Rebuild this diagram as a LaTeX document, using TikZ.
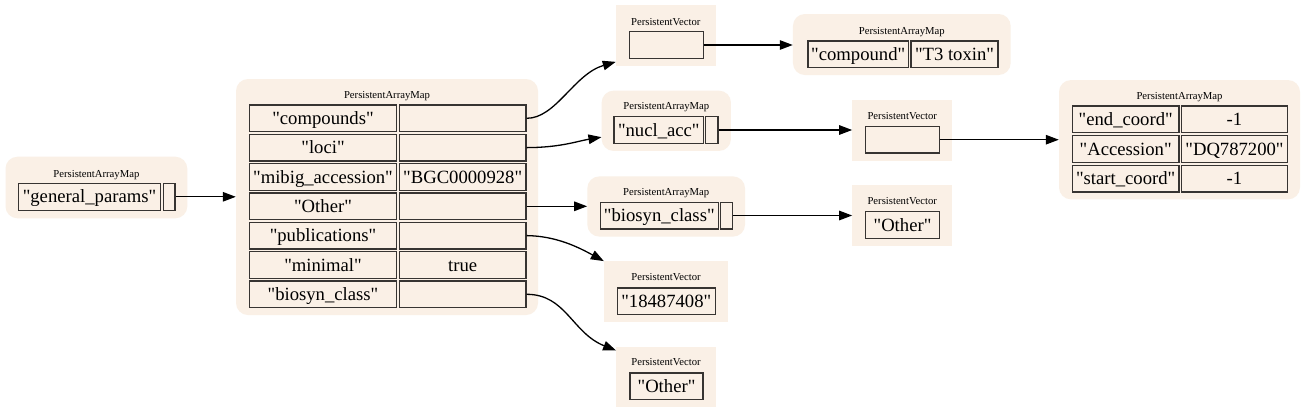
\documentclass[tikz,border=0pt]{standalone}
\usepackage{fontspec}
\setmainfont{Liberation Serif}[Ligatures=TeXOff]
\usetikzlibrary{arrows.meta}
\definecolor{linen}{RGB}{250,240,230}
\definecolor{cellborder}{RGB}{55,52,50}
\tikzset{
  mapbg/.style={fill=linen, draw=none, rounded corners=12pt, inner sep=0pt},
  vecbg/.style={fill=linen, draw=none, inner sep=0pt},
  hdr/.style={font=\fontsize{10.67}{12}\selectfont, inner sep=0pt, anchor=base},
  cell/.style={draw=cellborder, line width=1.3pt, fill=linen, inner sep=0pt,
    font=\fontsize{18.67}{20}\selectfont, text height=14pt, text depth=2pt,
    minimum height=26.7pt},
  link/.style={draw=black, line width=1.3pt, -{Triangle[length=13pt,width=9.5pt]}}
}
\begin{document}
\begin{tikzpicture}[x=1pt,y=-1pt]
\useasboundingbox (0,0) rectangle (1305,413);
\fill[white] (0,0) rectangle (1305,413);

% A: general_params
\node[mapbg, minimum width=181.8pt, minimum height=61.6pt] (A) at (96.4,187.5) {};
\node[hdr] (Ah) at (96.4,177) {PersistentArrayMap};
\node[cell, minimum width=142.4pt] (Ak) at (89.5,196.8) {"general\_params"};
\node[cell, minimum width=11.7pt] (Av) at (169.2,196.8) {};

% B: big map
\node[mapbg, minimum width=302pt, minimum height=236pt] (B) at (387,197) {};
\node[hdr] (Bh) at (387,98) {PersistentArrayMap};
\node[cell, minimum width=147.4pt] (B1k) at (323,118.3) {"compounds"};
\node[cell, minimum width=126.7pt] (B1v) at (462.7,118.3) {};
\node[cell, minimum width=147.4pt] (B2k) at (323,147.6) {"loci"};
\node[cell, minimum width=126.7pt] (B2v) at (462.7,147.6) {};
\node[cell, minimum width=147.4pt] (B3k) at (323,177) {"mibig\_accession"};
\node[cell, minimum width=126.7pt] (B3v) at (462.7,177) {"BGC0000928"};
\node[cell, minimum width=147.4pt] (B4k) at (323,206.3) {"Other"};
\node[cell, minimum width=126.7pt] (B4v) at (462.7,206.3) {};
\node[cell, minimum width=147.4pt] (B5k) at (323,235.6) {"publications"};
\node[cell, minimum width=126.7pt] (B5v) at (462.7,235.6) {};
\node[cell, minimum width=147.4pt] (B6k) at (323,265) {"minimal"};
\node[cell, minimum width=126.7pt] (B6v) at (462.7,265) {true};
\node[cell, minimum width=147.4pt] (B7k) at (323,294.3) {"biosyn\_class"};
\node[cell, minimum width=126.7pt] (B7v) at (462.7,294.3) {};

% C: vector (top)
\node[vecbg, minimum width=99.7pt, minimum height=60.7pt] (C) at (665.8,35.3) {};
\node[hdr] (Ch) at (665.8,25) {PersistentVector};
\node[cell, minimum width=73.6pt] (Cv) at (666.5,45) {};

% D: compound map
\node[mapbg, minimum width=217.7pt, minimum height=61pt] (D) at (901.8,44.5) {};
\node[hdr] (Dh) at (901.8,34) {PersistentArrayMap};
\node[cell, minimum width=100.5pt] (Dk) at (858.2,54.2) {"compound"};
\node[cell, minimum width=87pt] (Dv) at (954.5,54.2) {"T3 toxin"};

% E: nucl_acc map
\node[mapbg, minimum width=129.3pt, minimum height=60.3pt] (E) at (666.3,120.8) {};
\node[hdr] (Eh) at (666.3,109.8) {PersistentArrayMap};
\node[cell, minimum width=89.7pt] (Ek) at (658.8,130) {"nucl\_acc"};
\node[cell, minimum width=12.3pt] (Ev) at (711.8,130) {};

% F: vector (middle)
\node[vecbg, minimum width=99.7pt, minimum height=60.7pt] (F) at (902.2,130.3) {};
\node[hdr] (Fh) at (902.2,119) {PersistentVector};
\node[cell, minimum width=73.6pt] (Fv) at (902.5,139.7) {};

% G: coord map
\node[mapbg, minimum width=241pt, minimum height=119.3pt] (G) at (1179.5,139.7) {};
\node[hdr] (Gh) at (1179.5,99.5) {PersistentArrayMap};
\node[cell, minimum width=106.7pt] (G1k) at (1125.7,119.3) {"end\_coord"};
\node[cell, minimum width=105.6pt] (G1v) at (1234.5,119.3) {-1};
\node[cell, minimum width=106.7pt] (G2k) at (1125.7,149) {"Accession"};
\node[cell, minimum width=105.6pt] (G2v) at (1234.5,149) {"DQ787200"};
\node[cell, minimum width=106.7pt] (G3k) at (1125.7,178.5) {"start\_coord"};
\node[cell, minimum width=105.6pt] (G3v) at (1234.5,178.5) {-1};

% H: biosyn_class map
\node[mapbg, minimum width=157.7pt, minimum height=60.2pt] (H) at (666.2,206.5) {};
\node[hdr] (Hh) at (666.2,195.3) {PersistentArrayMap};
\node[cell, minimum width=118pt] (Hk) at (659.3,215.5) {"biosyn\_class"};
\node[cell, minimum width=12.4pt] (Hv) at (726.5,215.5) {};

% I: vector Other
\node[vecbg, minimum width=99.7pt, minimum height=60.7pt] (I) at (902.2,215.3) {};
\node[hdr] (Ih) at (902.2,204.5) {PersistentVector};
\node[cell, minimum width=73.6pt] (Iv) at (902.5,225) {"Other"};

% J: vector publications
\node[vecbg, minimum width=124pt, minimum height=60.4pt] (J) at (666,291.5) {};
\node[hdr] (Jh) at (666,280.7) {PersistentVector};
\node[cell, minimum width=98pt] (Jv) at (666.3,301.2) {"18487408"};

% K: vector Other (bottom)
\node[vecbg, minimum width=99.4pt, minimum height=60pt] (K) at (666,376.7) {};
\node[hdr] (Kh) at (666,365.7) {PersistentVector};
\node[cell, minimum width=73pt] (Kv) at (666.5,386.3) {"Other"};

% edges
\draw[link] (Av.east) -- (B.west |- Av.east);
\draw[link] (B1v.east) .. controls (556,118.3) and (574,74) .. ([yshift=4pt]C.south west);
\draw[link] (B2v.east) .. controls (560,147.6) and (578,141) .. ([yshift=14pt]E.south west);
\draw[link] (B4v.east) -- (H.west |- B4v.east);
\draw[link] (B5v.east) .. controls (556,236) and (578,247) .. (J.north west);
\draw[link] (B7v.east) .. controls (566,294.3) and (572,333) .. ([yshift=-4pt]K.north west);
\draw[link] (Cv.east) -- (D.west |- Cv.east);
\draw[link] (Ev.east) -- (F.west |- Ev.east);
\draw[link] (Fv.east) -- (G.west |- Fv.east);
\draw[link] (Hv.east) -- (I.west |- Hv.east);
\end{tikzpicture}
\end{document}
